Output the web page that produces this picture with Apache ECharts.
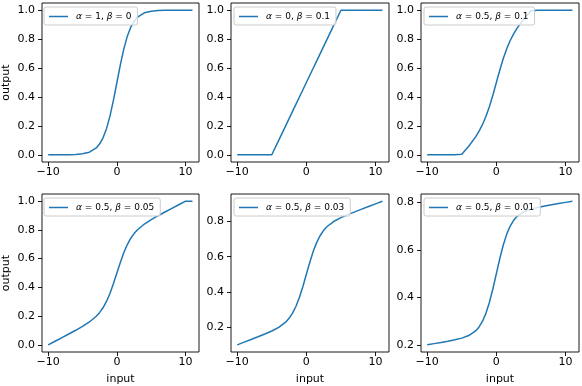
<!DOCTYPE html>
<html>
<head>
<meta charset="utf-8">
<script src="https://cdn.jsdelivr.net/npm/echarts@6/dist/echarts.min.js"></script>
<style>
  html, body { margin: 0; padding: 0; background: #fff; }
  #chart { width: 582px; height: 386px; }
</style>
</head>
<body>
<div id="chart"></div>
<script>
// values
const inputs = [-10, -9, -8, -7, -6, -5, -4, -3, -2.5, -2, -1.5, -1, -0.5, 0, 0.5, 1, 1.5, 2, 2.5, 3, 4, 5, 6, 7, 8, 9, 10, 11]
const outA1B0 = [0, 0.0001, 0.0003, 0.0009, 0.0025, 0.0067, 0.018, 0.0474, 0.0759, 0.1192, 0.1824, 0.2689, 0.3775, 0.5, 0.6225, 0.7311, 0.8176, 0.8808, 0.9241, 0.9526, 0.982, 0.9933, 0.9975, 0.9991, 0.9997, 0.9999, 1, 1]
const outA0B01 = [0, 0, 0, 0, 0, 0, 0.1, 0.2, 0.25, 0.3, 0.35, 0.4, 0.45, 0.5, 0.55, 0.6, 0.65, 0.7, 0.75, 0.8, 0.9, 1, 1, 1, 1, 1, 1, 1]
const outA05B01 = [0, 0, 0, 0, 0, 0.0033, 0.059, 0.1237, 0.163, 0.2096, 0.2662, 0.3345, 0.4138, 0.5, 0.5862, 0.6655, 0.7338, 0.7904, 0.837, 0.8763, 0.941, 0.9967, 1, 1, 1, 1, 1, 1]
const outA05B005 = [0, 0.0251, 0.0502, 0.0755, 0.1012, 0.1283, 0.159, 0.1987, 0.2255, 0.2596, 0.3037, 0.3595, 0.4263, 0.5, 0.5737, 0.6405, 0.6963, 0.7404, 0.7745, 0.8013, 0.841, 0.8717, 0.8988, 0.9246, 0.9498, 0.975, 1, 1]
const outA05B003 = [0.1, 0.1151, 0.1302, 0.1455, 0.1612, 0.1783, 0.199, 0.2287, 0.2505, 0.2796, 0.3187, 0.3695, 0.4313, 0.5, 0.5687, 0.6305, 0.6813, 0.7204, 0.7495, 0.7713, 0.801, 0.8217, 0.8388, 0.8546, 0.8698, 0.885, 0.9, 0.915]
const outA05B001 = [0.2, 0.2051, 0.2102, 0.2155, 0.2212, 0.2283, 0.239, 0.2587, 0.2755, 0.2996, 0.3337, 0.3795, 0.4363, 0.5, 0.5637, 0.6205, 0.6663, 0.7004, 0.7245, 0.7413, 0.761, 0.7717, 0.7788, 0.7846, 0.7898, 0.795, 0.8, 0.805]

const xTicks = [-10, 0, 10]
const yTicksUnit = [0, 0.2, 0.4, 0.6, 0.8, 1.0]
const yTicksMid = [0.2, 0.4, 0.6, 0.8]

// legend text: [alpha, beta]
const legendParams = [['1', '0'], ['0', '0.1'], ['0.5', '0.1'], ['0.5', '0.05'], ['0.5', '0.03'], ['0.5', '0.01']]

const panels = [
    { left: 41,  top: 3,   ymin: -0.05,  ymax: 1.05,   yticks: yTicksUnit, data: outA1B0 },
    { left: 231, top: 3,   ymin: -0.05,  ymax: 1.05,   yticks: yTicksUnit, data: outA0B01 },
    { left: 421, top: 3,   ymin: -0.05,  ymax: 1.05,   yticks: yTicksUnit, data: outA05B01 },
    { left: 41,  top: 194, ymin: -0.05,  ymax: 1.05,   yticks: yTicksUnit, data: outA05B005 },
    { left: 231, top: 194, ymin: 0.0593, ymax: 0.9558, yticks: yTicksMid,  data: outA05B003 },
    { left: 421, top: 194, ymin: 0.1698, ymax: 0.8353, yticks: yTicksMid,  data: outA05B001 },
]

const FONT = 'DejaVu Sans'
const INK = '#000'
const BLUE = '#1f77b4'

const chart = echarts.init(document.getElementById('chart'), null, { renderer: 'canvas' })

const grids = [], xAxes = [], yAxes = [], series = [], legends = []
panels.forEach((p, i) => {
    const name = 's' + i
    grids.push({
        left: p.left, top: p.top, width: 158, height: 159,
        show: true, borderColor: INK, borderWidth: 0.9, backgroundColor: 'transparent'
    })
    xAxes.push({
        type: 'value', gridIndex: i, min: -10.9, max: 11.95,
        axisLine: { show: false, onZero: false },
        axisTick: { show: true, length: 4, customValues: xTicks, lineStyle: { color: INK, width: 0.9 } },
        axisLabel: {
            customValues: xTicks, margin: 5, color: INK, fontFamily: FONT, fontSize: 11,
            formatter: v => v < 0 ? '\u2212' + Math.abs(v) : String(v)
        },
        splitLine: { show: false },
        name: i >= 3 ? 'input' : '', nameLocation: 'middle', nameGap: 22,
        nameTextStyle: { color: INK, fontFamily: FONT, fontSize: 11 }
    })
    yAxes.push({
        type: 'value', gridIndex: i, min: p.ymin, max: p.ymax,
        axisLine: { show: false, onZero: false },
        axisTick: { show: true, length: 4, customValues: p.yticks, lineStyle: { color: INK, width: 0.9 } },
        axisLabel: {
            customValues: p.yticks, margin: 7, color: INK, fontFamily: FONT, fontSize: 11,
            formatter: v => v.toFixed(1)
        },
        splitLine: { show: false },
        name: (i === 0 || i === 3) ? 'output' : '', nameLocation: 'middle', nameGap: 30, nameRotate: 90,
        nameTextStyle: { color: INK, fontFamily: FONT, fontSize: 11 }
    })
    series.push({
        name: name, type: 'line', xAxisIndex: i, yAxisIndex: i,
        data: inputs.map((x, k) => [x, p.data[k]]),
        showSymbol: false, symbol: 'none', smooth: false,
        lineStyle: { color: BLUE, width: 1.5 }, itemStyle: { color: BLUE },
        z: 2, silent: true
    })
    const lp = legendParams[i]
    legends.push({
        data: [name], left: p.left + 3, top: p.top + 4,
        orient: 'vertical', padding: [5, 6, 4, 5],
        backgroundColor: 'rgba(255,255,255,0.8)', borderColor: '#cccccc', borderWidth: 1, borderRadius: 2,
        icon: 'rect', itemWidth: 19, itemHeight: 1.5,
        selectedMode: false, z: 10,
        formatter: () => '{m|\u03b1} = ' + lp[0] + ', {m|\u03b2} = ' + lp[1],
        textStyle: {
            color: INK, fontFamily: FONT, fontSize: 9, padding: [0, 0, 0, 3],
            rich: { m: { fontStyle: 'italic', fontFamily: FONT, fontSize: 9, color: INK } }
        }
    })
})

chart.setOption({
    animation: false,
    backgroundColor: '#fff',
    grid: grids,
    xAxis: xAxes,
    yAxis: yAxes,
    legend: legends,
    series: series
})
</script>
</body>
</html>
